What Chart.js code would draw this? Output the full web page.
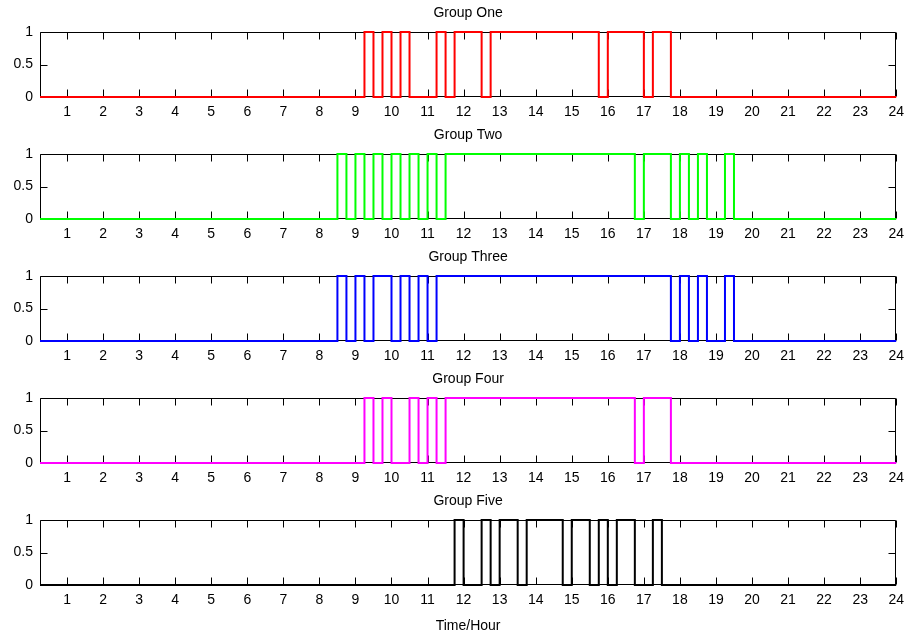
<!DOCTYPE html>
<html lang="en">
<head>
<meta charset="UTF-8">
<title>Group activity by hour</title>
<script src="https://cdn.jsdelivr.net/npm/chart.js"></script>
<style>
  html, body { margin: 0; padding: 0; background: #fff; }
  #wrap { position: relative; width: 911px; height: 637px; overflow: hidden; }
  #wrap canvas { position: absolute; left: 0; }
</style>
</head>
<body>
<div id="wrap"></div>
<script>
// x axis
var xMin = 0.25, xMax = 24;
var xTicks = [1, 2, 3, 4, 5, 6, 7, 8, 9, 10, 11, 12, 13, 14, 15, 16, 17, 18, 19, 20, 21, 22, 23, 24];
var yTicks = [0, 0.5, 1];

var groupNames = ['Group One', 'Group Two', 'Group Three', 'Group Four', 'Group Five'];
var groupColors = ['#ff0000', '#00ff00', '#0000ff', '#ff00ff', '#000000'];

// hours where each group is "on" (value 1), [start, end]
var groupOneOn = [[9.25, 9.5], [9.75, 10], [10.25, 10.5], [11.25, 11.5], [11.75, 12.5], [12.75, 15.75], [16, 17], [17.25, 17.75]];
var groupTwoOn = [[8.5, 8.75], [9, 9.25], [9.5, 9.75], [10, 10.25], [10.5, 10.75], [11, 11.25], [11.5, 16.75], [17, 17.75], [18, 18.25], [18.5, 18.75], [19.25, 19.5]];
var groupThreeOn = [[8.5, 8.75], [9, 9.25], [9.5, 10], [10.25, 10.5], [10.75, 11], [11.25, 17.75], [18, 18.25], [18.5, 18.75], [19.25, 19.5]];
var groupFourOn = [[9.25, 9.5], [9.75, 10], [10.5, 10.75], [11, 11.25], [11.5, 16.75], [17, 17.75]];
var groupFiveOn = [[11.75, 12], [12.5, 12.75], [13, 13.5], [13.75, 14.75], [15, 15.5], [15.75, 16], [16.25, 16.75], [17.25, 17.5]];

var groupIntervals = [groupOneOn, groupTwoOn, groupThreeOn, groupFourOn, groupFiveOn];

// turn on-intervals into step points (value held until next point)
function stepPoints(on) {
  var pts = [{ x: xMin, y: 0 }];
  on.forEach(function (iv) {
    pts.push({ x: iv[0], y: 1 });
    pts.push({ x: iv[1], y: 0 });
  });
  pts.push({ x: xMax, y: 0 });
  return pts;
}

var FONT = { family: "'Liberation Sans', Arial, Helvetica, sans-serif", size: 14, weight: 'normal', lineHeight: '16px' };
var TICK_LEN = 7;

// box round the plot plus inward ticks on all four sides
var boxTicks = {
  id: 'boxTicks',
  beforeDatasetsDraw: function (chart) {
    var a = chart.chartArea, ctx = chart.ctx;
    var xs = chart.scales.x, ys = chart.scales.y;
    var l = Math.round(a.left) + 0.5, r = Math.round(a.right) - 0.5;
    var t = Math.round(a.top) + 0.5, b = Math.round(a.bottom) - 0.5;
    ctx.save();
    ctx.strokeStyle = '#000';
    ctx.lineWidth = 1;
    ctx.beginPath();
    ctx.moveTo(l, t); ctx.lineTo(r, t); ctx.lineTo(r, b); ctx.lineTo(l, b); ctx.closePath();
    xTicks.forEach(function (v) {
      var px = Math.round(xs.getPixelForValue(v)) + 0.5;
      ctx.moveTo(px, b); ctx.lineTo(px, b - TICK_LEN);
      ctx.moveTo(px, t); ctx.lineTo(px, t + TICK_LEN);
    });
    yTicks.forEach(function (v) {
      var py = Math.round(ys.getPixelForValue(v)) + 0.5;
      ctx.moveTo(l, py); ctx.lineTo(l + TICK_LEN, py);
      ctx.moveTo(r, py); ctx.lineTo(r - TICK_LEN, py);
    });
    ctx.stroke();
    ctx.restore();
  }
};

var plotTops = [32, 154, 276, 398, 520];
var plotHeight = 65;
var titleBlock = 27;
var wrap = document.getElementById('wrap');

groupNames.forEach(function (name, i) {
  var last = i === groupNames.length - 1;
  var axisH = last ? 52 : 26;
  var cv = document.createElement('canvas');
  cv.width = 911;
  cv.height = titleBlock + plotHeight + axisH;
  cv.style.top = (plotTops[i] - titleBlock) + 'px';
  wrap.appendChild(cv);

  new Chart(cv.getContext('2d'), {
    type: 'line',
    data: {
      datasets: [{
        data: stepPoints(groupIntervals[i]),
        borderColor: groupColors[i],
        borderWidth: 2,
        stepped: true,
        pointRadius: 0,
        fill: false,
        clip: false
      }]
    },
    options: {
      responsive: false,
      animation: false,
      devicePixelRatio: 1,
      layout: { padding: { left: 0, right: 13, top: 0, bottom: 0 } },
      plugins: {
        legend: { display: false },
        tooltip: { enabled: false },
        title: {
          display: true,
          text: name,
          color: '#000',
          font: FONT,
          fullSize: false,
          padding: { top: 0, bottom: 11 }
        }
      },
      scales: {
        x: {
          type: 'linear',
          min: xMin,
          max: xMax,
          grid: { display: false, drawTicks: false },
          border: { display: false },
          ticks: { color: '#000', font: FONT, padding: 7, maxRotation: 0, autoSkip: false },
          afterBuildTicks: function (s) { s.ticks = xTicks.map(function (v) { return { value: v }; }); },
          afterFit: function (s) { s.height = axisH; },
          title: {
            display: last,
            text: 'Time/Hour',
            color: '#000',
            font: FONT,
            padding: { top: 4, bottom: 3 }
          }
        },
        y: {
          min: 0,
          max: 1,
          grid: { display: false, drawTicks: false },
          border: { display: false },
          ticks: {
            color: '#000', font: FONT, padding: 7,
            callback: function (v) { return String(v); }
          },
          afterBuildTicks: function (s) { s.ticks = yTicks.map(function (v) { return { value: v }; }); },
          afterFit: function (s) { s.width = 40; }
        }
      }
    },
    plugins: [boxTicks]
  });
});
</script>
</body>
</html>
